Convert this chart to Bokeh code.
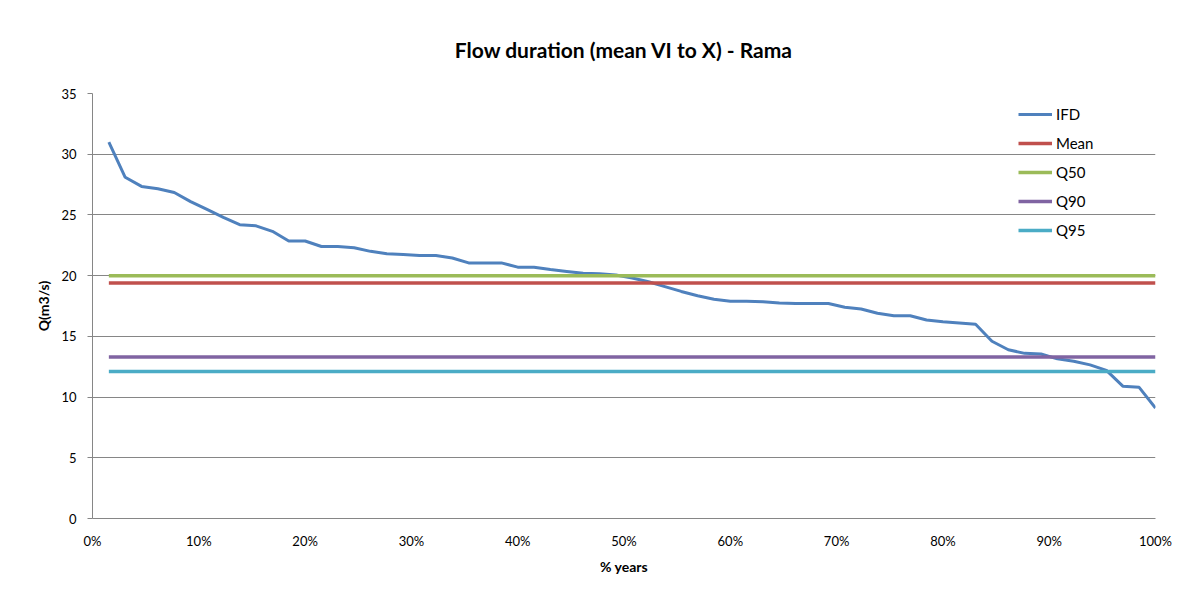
from bokeh.plotting import figure
from bokeh.models import NumeralTickFormatter, FixedTicker, Range1d, Legend, LegendItem
from bokeh.embed import file_html
from bokeh.resources import INLINE

# ---- data ----
ifd = [31.0, 28.1, 27.35, 27.15, 26.85, 26.1, 25.45, 24.8, 24.2, 24.1,
       23.65, 22.85, 22.85, 22.4, 22.4, 22.3, 22.0, 21.8, 21.75, 21.65,
       21.65, 21.45, 21.05, 21.05, 21.05, 20.7, 20.7, 20.5, 20.35, 20.2,
       20.15, 20.05, 19.8, 19.5, 19.1, 18.7, 18.35, 18.05, 17.9, 17.9,
       17.85, 17.75, 17.7, 17.7, 17.7, 17.4, 17.25, 16.9, 16.7, 16.7,
       16.35, 16.2, 16.1, 16.0, 14.6, 13.9, 13.6, 13.55, 13.15, 12.95,
       12.65, 12.2, 10.9, 10.8, 9.1]
n_years = len(ifd)
pct_years = [(i + 1) / n_years for i in range(n_years)]  # exceedance (% of years)

q_mean = 19.4
q50 = 20.0
q90 = 13.3
q95 = 12.1

x_ticks = [0, 0.1, 0.2, 0.3, 0.4, 0.5, 0.6, 0.7, 0.8, 0.9, 1.0]
y_ticks = [0, 5, 10, 15, 20, 25, 30, 35]

colors = {"IFD": "#4F81BD", "Mean": "#C0504D", "Q50": "#9BBB59",
          "Q90": "#8064A2", "Q95": "#4BACC6"}

FONT = "Lato"

p = figure(width=1193, height=588, output_backend="svg", toolbar_location=None,
           x_range=Range1d(0, 1), y_range=Range1d(0, 35),
           min_border_left=92, min_border_right=38, min_border_top=93,
           min_border_bottom=70,
           title="Flow duration (mean VI to X) - Rama")

p.title.align = "center"
p.title.text_font = FONT
p.title.text_font_size = "21px"
p.title.text_font_style = "bold"
p.title.text_color = "#000000"
p.title.standoff = 64

p.outline_line_color = None
p.background_fill_color = "white"
p.border_fill_color = "white"

# grid
p.xgrid.grid_line_color = None
p.ygrid.grid_line_color = "#868686"
p.ygrid.grid_line_width = 1
p.ygrid.ticker = FixedTicker(ticks=y_ticks)

# axes
p.xaxis.ticker = FixedTicker(ticks=x_ticks)
p.xaxis.formatter = NumeralTickFormatter(format="0%")
p.yaxis.ticker = FixedTicker(ticks=y_ticks)
for ax in (p.xaxis[0], p.yaxis[0]):
    ax.axis_line_color = "#868686"
    ax.major_tick_line_color = "#868686"
    ax.minor_tick_line_color = None
    ax.major_label_text_font = FONT
    ax.major_label_text_font_size = "13px"
    ax.major_label_text_color = "#000000"
    ax.axis_label_text_font = FONT
    ax.axis_label_text_font_size = "14px"
    ax.axis_label_text_font_style = "bold"
    ax.axis_label_text_color = "#000000"

p.xaxis.major_tick_in = 0
p.xaxis.major_tick_out = 0
p.xaxis.major_label_standoff = 14
p.xaxis.axis_label = "% years"
p.xaxis.axis_label_standoff = 6

p.yaxis.major_tick_in = 0
p.yaxis.major_tick_out = 5
p.yaxis.major_label_standoff = 11
p.yaxis.axis_label = "Q(m3/s)"
p.yaxis.axis_label_standoff = 6

# series
x_span = [pct_years[0], pct_years[-1]]
r_ifd = p.line(pct_years, ifd, line_color=colors["IFD"], line_width=3)
r_mean = p.line(x_span, [q_mean, q_mean], line_color=colors["Mean"], line_width=3.5)
r_q50 = p.line(x_span, [q50, q50], line_color=colors["Q50"], line_width=3.5)
r_q90 = p.line(x_span, [q90, q90], line_color=colors["Q90"], line_width=3.5)
r_q95 = p.line(x_span, [q95, q95], line_color=colors["Q95"], line_width=3.5)

legend = Legend(items=[
    LegendItem(label="IFD", renderers=[r_ifd]),
    LegendItem(label="Mean", renderers=[r_mean]),
    LegendItem(label="Q50", renderers=[r_q50]),
    LegendItem(label="Q90", renderers=[r_q90]),
    LegendItem(label="Q95", renderers=[r_q95]),
], location=(926, 278))
legend.background_fill_alpha = 0
legend.border_line_color = None
legend.label_text_font = FONT
legend.label_text_font_size = "15px"
legend.label_text_color = "#000000"
legend.glyph_width = 34
legend.glyph_height = 20
legend.label_height = 20
legend.label_standoff = 4
legend.spacing = 9
legend.padding = 5
legend.margin = 0
p.add_layout(legend, "center")

open("out.html", "w").write(file_html(p, INLINE))
